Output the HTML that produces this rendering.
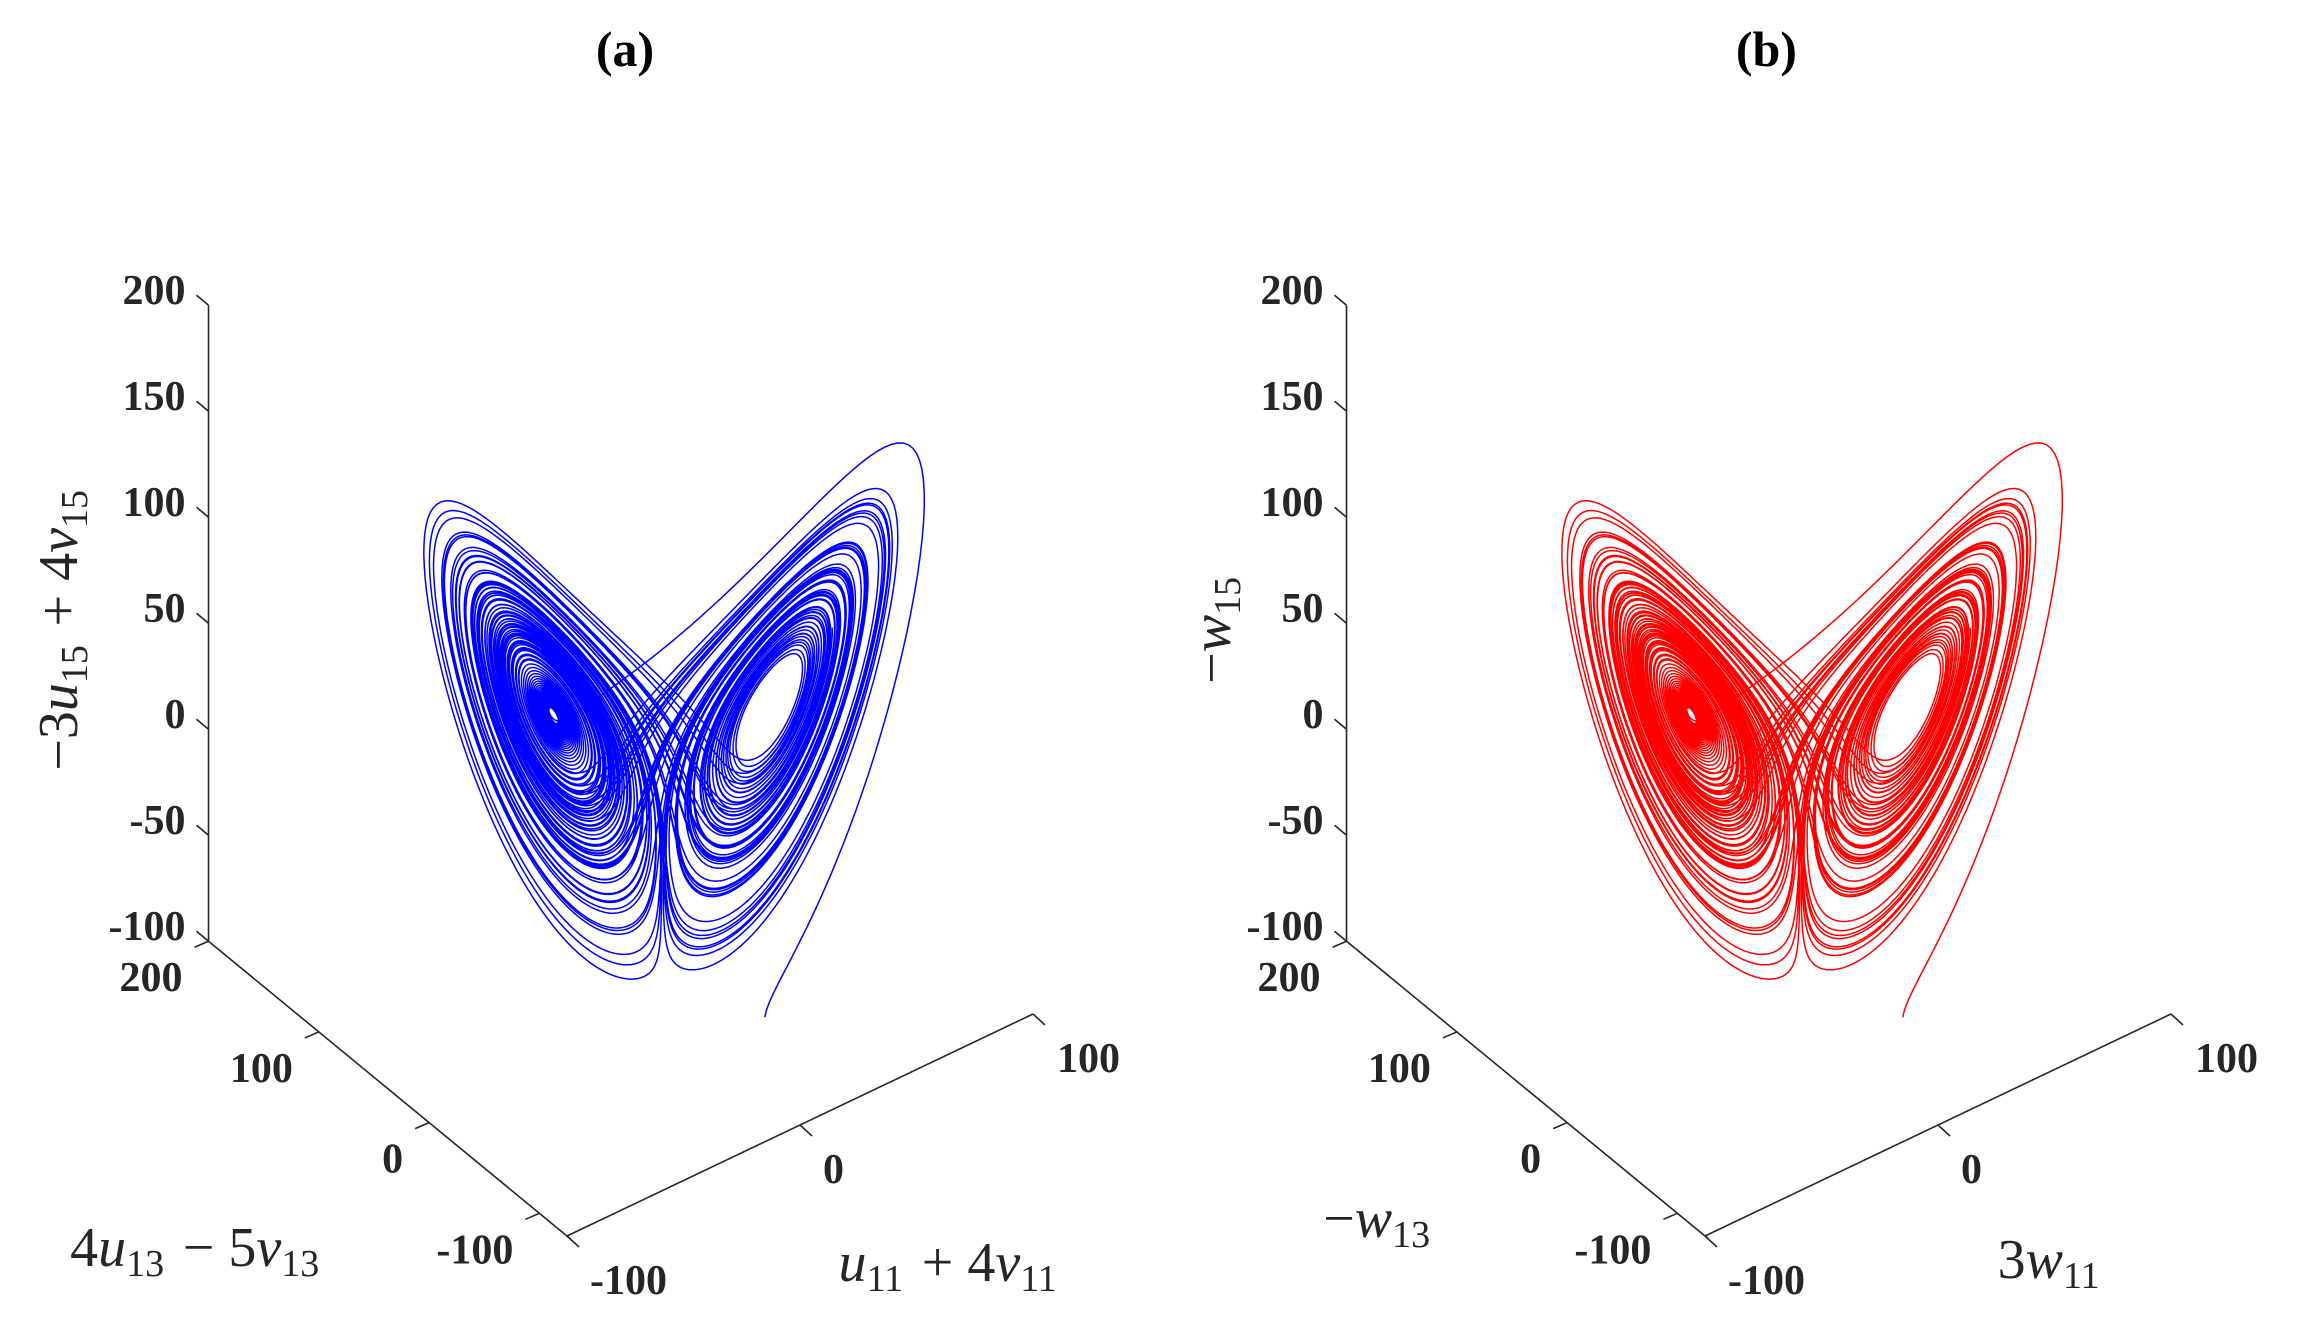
<!DOCTYPE html>
<html><head><meta charset="utf-8"><style>
html,body{margin:0;padding:0;background:#fff;}
svg{display:block;}
.tk{font-family:"Liberation Serif",serif;font-weight:bold;font-size:42px;fill:#262626;}
.ax{font-family:"Liberation Serif",serif;font-size:56px;fill:#262626;}
.ttl{font-family:"Liberation Serif",serif;font-weight:bold;font-size:50px;fill:#000;}
</style></head><body>
<svg id="fig" width="2299" height="1334" viewBox="0 0 2299 1334" xmlns="http://www.w3.org/2000/svg"></svg>
<script>
const xTicks=[-100,0,100];
const yTicks=[-100,0,100,200];
const zTicks=[-100,-50,0,50,100,150,200];
const xRange=[-100,100], yRange=[-125,200], zRange=[-100,200];
const panelTitles=["(a)","(b)"];
const panelColors=["#0000ff","#ff0000"];
const panelOffsets=[0,1138];
const lorenzParams=[10,28,8/3];
const lorenzStart=[8,8,0];
// X = a*x, Y = b*y, Z = c*z + d*x + e
const dataScale=[5.5,0,5.47,-2.64,-106];

const NS="http://www.w3.org/2000/svg";
const svg=document.getElementById('fig');
function mk(tag,attrs,parent){const e=document.createElementNS(NS,tag);for(const k in attrs)e.setAttribute(k,attrs[k]);(parent||svg).appendChild(e);return e;}
function proj(X,Y,Z,off){
  const a=X-xRange[0], b=Y-yRange[0], c=Z-zRange[0];
  return [567+off+a*2.33-b*1.103, 1236-a*1.11-b*0.907-c*2.12];
}
function deriv(s){const [sg,r,b]=lorenzParams;return [sg*(s[1]-s[0]), s[0]*(r-s[2])-s[1], s[0]*s[1]-b*s[2]];}
const traj=[];
(function(){let s=lorenzStart.slice();const dt=0.004;
 for(let i=0;i<28000;i++){
  const k1=deriv(s),k2=deriv(s.map((v,j)=>v+dt/2*k1[j])),k3=deriv(s.map((v,j)=>v+dt/2*k2[j])),k4=deriv(s.map((v,j)=>v+dt*k3[j]));
  s=s.map((v,j)=>v+dt/6*(k1[j]+2*k2[j]+2*k3[j]+k4[j]));
  traj.push([s[0]*dataScale[0], s[1]*dataScale[1], s[2]*dataScale[2]+s[0]*dataScale[3]+dataScale[4]]);
 }})();

const zLabels=[["−3",["u","15"]," + 4",["v","15"]],["−",["w","15"]]];
const yLabels=[["4",["u","13"]," − 5",["v","13"]],["−",["w","13"]]];
const xLabels=[[["u","11"]," + 4",["v","11"]],["3",["w","11"]]];
const yLabelPos=[[197,1248],[1379,1219]];
const xLabelPos=[[950,1263],[2051,1260]];
const zLabelPos=[[59,628],[1212,628]];
function mathText(g,parts,x,y,rot){
  const t=mk('text',{class:'ax','text-anchor':'middle',x:x,y:y+18,transform:rot?`rotate(-90 ${x} ${y})`:''},g);
  parts.forEach(p=>{
    if(typeof p==='string'){const s=mk('tspan',{},t);s.textContent=p;}
    else{const v=mk('tspan',{'font-style':'italic'},t);v.textContent=p[0];
      const sb=mk('tspan',{'font-size':'38px',dy:'10'},t);sb.textContent=p[1];
      const r=mk('tspan',{dy:'-10'},t);r.textContent='\u200a';}
  });
  return t;
}
panelOffsets.forEach((off,pi)=>{
  const g=mk('g',{});
  
  
  const L={stroke:'#262626','stroke-width':1.6,fill:'none'};
  let p1=proj(xRange[0],yRange[1],zRange[0],off),p2=proj(xRange[0],yRange[1],zRange[1],off);
  const za=mk('line',Object.assign({x1:p1[0],y1:p1[1],x2:p2[0],y2:p2[1]},L),g);
  
  p1=proj(xRange[0],yRange[1],zRange[0],off);p2=proj(xRange[0],yRange[0]-3,zRange[0],off);
  const ya=mk('line',Object.assign({x1:p1[0],y1:p1[1],x2:p2[0],y2:p2[1]},L),g);
  
  p1=proj(xRange[0],yRange[0],zRange[0],off);p2=proj(xRange[1],yRange[0],zRange[0],off);
  const xa=mk('line',Object.assign({x1:p1[0],y1:p1[1],x2:p2[0],y2:p2[1]},L),g);
  
  zTicks.forEach(v=>{const p=proj(xRange[0],yRange[1],v,off);
    mk('line',Object.assign({x1:p[0],y1:p[1],x2:p[0]-12,y2:p[1]-10},L),g);
    const t=mk('text',{class:'tk','text-anchor':'end',x:p[0]-23,y:p[1]-1},g);t.textContent=v;
    });
  yTicks.forEach(v=>{const p=proj(xRange[0],v,zRange[0],off);
    mk('line',Object.assign({x1:p[0],y1:p[1],x2:p[0]-14,y2:p[1]+6},L),g);
    const t=mk('text',{class:'tk','text-anchor':'end',x:p[0]-26,y:p[1]+50},g);t.textContent=v;
    });
  xTicks.forEach(v=>{const p=proj(v,yRange[0],zRange[0],off);
    mk('line',Object.assign({x1:p[0],y1:p[1],x2:p[0]+12,y2:p[1]+11},L),g);
    const t=mk('text',{class:'tk','text-anchor':'start',x:p[0]+(v===100?24:23),y:p[1]+58},g);t.textContent=v;
    });
  let d='';traj.forEach((q,i)=>{const p=proj(q[0],q[1],q[2],off);d+=(i?'L':'M')+p[0].toFixed(1)+' '+p[1].toFixed(1);});
  const path=mk('path',{d:d,stroke:panelColors[pi],'stroke-width':1.5,fill:'none','stroke-linejoin':'round'},g);
  
  const zl=mathText(g,zLabels[pi],zLabelPos[pi][0],zLabelPos[pi][1],true);
  
  const yl=mathText(g,yLabels[pi],yLabelPos[pi][0],yLabelPos[pi][1],false);
  
  const xl=mathText(g,xLabels[pi],xLabelPos[pi][0],xLabelPos[pi][1],false);
  
  const tt=mk('text',{class:'ttl','text-anchor':'middle',x:625+off*1.003,y:66},g);tt.textContent=panelTitles[pi];
  
});
</script>
</body></html>
